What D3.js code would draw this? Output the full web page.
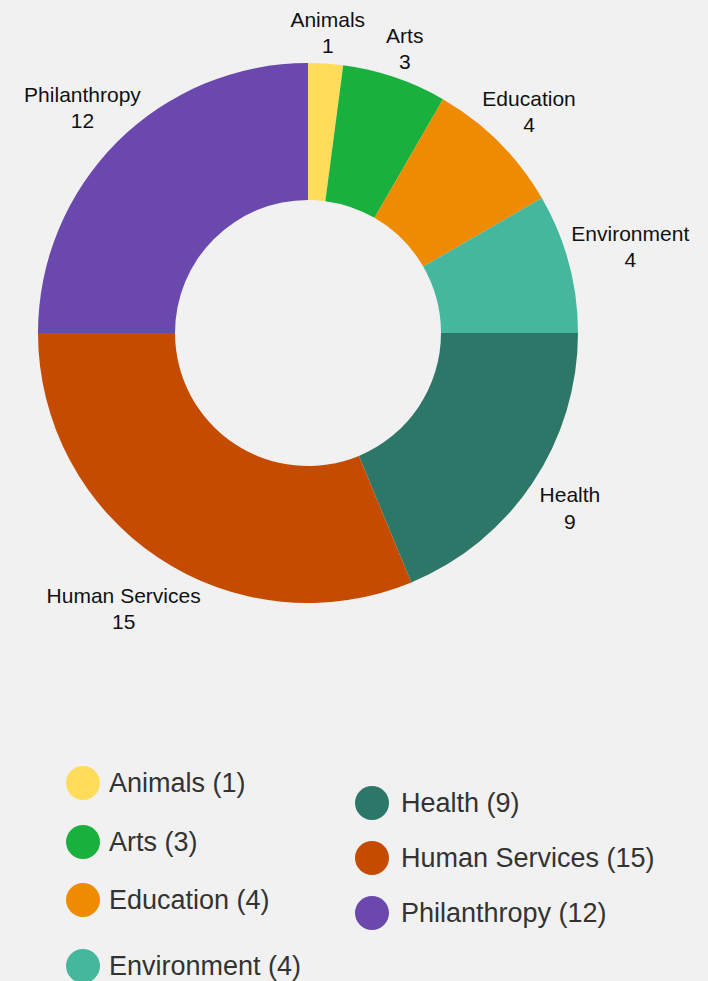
<!DOCTYPE html>
<html>
<head>
<meta charset="utf-8">
<script src="https://cdn.jsdelivr.net/npm/d3@7"></script>
<style>
  html, body { margin: 0; padding: 0; background: #f1f1f1; }
  svg { display: block; font-family: "Liberation Sans", Arial, sans-serif; }
</style>
</head>
<body>
<div id="svg-container"></div>
<script>
// data
const categories = ["Animals", "Arts", "Education", "Environment", "Health", "Human Services", "Philanthropy"];
const counts = [1, 3, 4, 4, 9, 15, 12];
const colors = ["#ffdc5a", "#19b03e", "#ee8b00", "#45b79d", "#2c7768", "#c54b00", "#6a48ae"];

const width = 708;
const height = 981;
const cx = 308, cy = 333;
const outerR = 270, innerR = 133;

const svg = d3.select("#svg-container").append("svg")
  .attr("width", width)
  .attr("height", height);

const data = categories.map((c, i) => ({ name: c, value: counts[i], color: colors[i] }));

const pie = d3.pie().sort(null).value((d) => d.value);
const arc = d3.arc().innerRadius(innerR).outerRadius(outerR);
const arcs = pie(data);

const g = svg.append("g").attr("transform", `translate(${cx},${cy})`);

g.selectAll("path")
  .data(arcs)
  .enter()
  .append("path")
  .attr("d", arc)
  .attr("fill", (d) => d.data.color);

// labels: pushed out from the ring by their own box size
const labels = g.selectAll(".slice-label")
  .data(arcs)
  .enter()
  .append("text")
  .attr("class", "slice-label")
  .attr("text-anchor", "middle")
  .style("font-size", "21px")
  .style("fill", "#111");

labels.append("tspan").attr("x", 0).attr("dy", 0).text((d) => d.data.name);
labels.append("tspan").attr("x", 0).attr("dy", "1.24em").text((d) => d.data.value);

labels.each(function (d) {
  const bb = this.getBBox();
  const w = bb.width / 2;
  const h = bb.height / 2;
  const a = (d.startAngle + d.endAngle) / 2;
  const ux = Math.sin(a), uy = -Math.cos(a);
  const r = outerR + 7 + w * ux * ux + h * uy * uy + 17 * Math.max(0, uy);
  const x = r * ux - (bb.x + w);
  const y = r * uy - (bb.y + h);
  d3.select(this).attr("transform", `translate(${x},${y})`);
});

// legend
const legendLeft = [783, 842, 900, 966];
const legendRight = [803, 858, 913];

const legend = svg.selectAll(".legend")
  .data(data)
  .enter()
  .append("g")
  .attr("class", "legend")
  .attr("transform", (d, i) => i < 4
    ? `translate(83,${legendLeft[i]})`
    : `translate(372,${legendRight[i - 4]})`);

legend.append("circle")
  .attr("r", 17)
  .attr("fill", (d) => d.color);

legend.append("text")
  .attr("x", (d, i) => (i < 4 ? 26 : 29))
  .attr("dy", "0.35em")
  .style("font-size", "27px")
  .style("fill", "#333")
  .text((d) => `${d.name} (${d.value})`);
</script>
</body>
</html>
